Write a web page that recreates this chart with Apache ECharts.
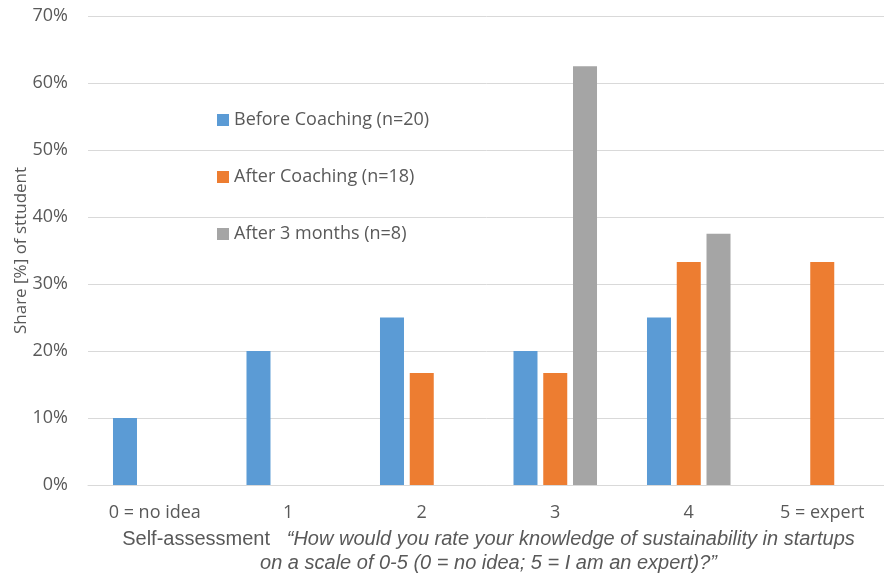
<!DOCTYPE html>
<html>
<head>
<meta charset="utf-8">
<script src="https://cdn.jsdelivr.net/npm/echarts@6/dist/echarts.min.js"></script>
<style>
  html, body { margin: 0; padding: 0; background: #fff; }
  #chart { width: 884px; height: 576px; }
</style>
</head>
<body>
<div id="chart"></div>
<script>
// Self-assessment scale categories
const categories = ['0 = no idea', '1', '2', '3', '4', '5 = expert'];

// Share of students (%) per rating, one array per survey wave
const beforeCoaching = [10, 20, 25, 20, 25, null];
const afterCoaching = [null, null, 16.7, 16.7, 33.3, 33.3];
const afterThreeMonths = [null, null, null, 62.5, 37.5, null];

const seriesNames = ['Before Coaching (n=20)', 'After Coaching (n=18)', 'After 3 months (n=8)'];
const seriesColors = ['#5B9BD5', '#ED7D31', '#A5A5A5'];

const textGray = '#595959';
const uiFont = '"Open Sans", sans-serif';
const titleFont = '"Liberation Sans", Arial, sans-serif';

const chart = echarts.init(document.getElementById('chart'));

const makeBar = (name, data, color) => ({
  name: name,
  type: 'bar',
  data: data,
  barWidth: 24,
  barGap: '24%',
  itemStyle: { color: color },
  emphasis: { disabled: true }
});

chart.setOption({
  animation: false,
  backgroundColor: '#ffffff',
  grid: { left: 88, right: -5, top: 16, bottom: 91, containLabel: false, outerBoundsMode: 'none' },
  legend: {
    orient: 'vertical',
    left: 212,
    top: 106,
    itemWidth: 12,
    itemHeight: 12,
    itemGap: 39,
    icon: 'rect',
    textStyle: { color: textGray, fontFamily: uiFont, fontSize: 18, lineHeight: 18 },
    data: seriesNames
  },
  xAxis: {
    type: 'category',
    data: categories,
    axisLine: { lineStyle: { color: '#D9D9D9', width: 1 } },
    axisTick: { show: false },
    axisLabel: { color: textGray, fontFamily: uiFont, fontSize: 18, margin: 19 },
    name: '{n|Self-assessment}   {i|\u201CHow would you rate your knowledge of sustainability in startups}\n{i|on a scale of 0-5 (0 = no idea; 5 = I am an expert)?\u201D}',
    nameLocation: 'middle',
    nameGap: 42,
    nameMoveOverlap: false,
    nameTextStyle: {
      color: textGray,
      fontFamily: titleFont,
      fontSize: 20,
      lineHeight: 24,
      rich: {
        n: { fontFamily: titleFont, fontSize: 20, color: textGray, lineHeight: 24 },
        i: { fontFamily: titleFont, fontSize: 20, fontStyle: 'italic', color: textGray, lineHeight: 24 }
      }
    }
  },
  yAxis: {
    type: 'value',
    min: 0,
    max: 70,
    interval: 10,
    axisLine: { show: false },
    axisTick: { show: false },
    splitLine: { lineStyle: { color: '#D9D9D9', width: 1 } },
    axisLabel: { color: textGray, fontFamily: uiFont, fontSize: 18, margin: 20, formatter: '{value}%' },
    name: 'Share [%] of sttudent',
    nameLocation: 'middle',
    nameGap: 58,
    nameMoveOverlap: false,
    nameTextStyle: { color: textGray, fontFamily: uiFont, fontSize: 17 }
  },
  series: [
    makeBar(seriesNames[0], beforeCoaching, seriesColors[0]),
    makeBar(seriesNames[1], afterCoaching, seriesColors[1]),
    makeBar(seriesNames[2], afterThreeMonths, seriesColors[2])
  ]
});
</script>
</body>
</html>
